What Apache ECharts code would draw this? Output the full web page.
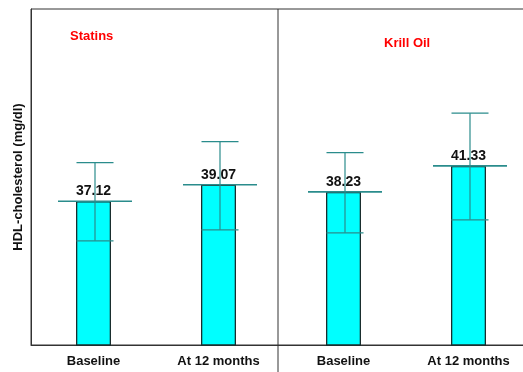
<!DOCTYPE html>
<html>
<head>
<meta charset="utf-8">
<script src="https://cdn.jsdelivr.net/npm/echarts@6/dist/echarts.min.js"></script>
<style>
  html, body { margin: 0; padding: 0; background: #fff; }
  #chart { width: 523px; height: 372px; }
</style>
</head>
<body>
<div id="chart"></div>
<script>
// HDL-cholesterol, mean with error range, per group and time point
const categories = ['Baseline', 'At 12 months', 'Baseline ', 'At 12 months '];
const meanValues = [37.12, 39.07, 38.23, 41.33];
const upperValues = [41.7, 44.2, 42.9, 47.6];
const lowerValues = [32.4, 33.7, 33.35, 34.9];
const groupNames = ['Statins', 'Krill Oil'];

const FONT = '"Liberation Sans", Arial, sans-serif';
const TEAL = '#2a8c8c';

const errorData = categories.map((c, i) => [i, meanValues[i], upperValues[i], lowerValues[i]]);

const chart = echarts.init(document.getElementById('chart'), null, { renderer: 'canvas' });

chart.setOption({
  animation: false,
  backgroundColor: '#fff',
  textStyle: { fontFamily: FONT },
  grid: {
    left: 31, top: 9, bottom: 27, width: 500,
    containLabel: false,
    outerBoundsMode: 'none',
    show: true, borderColor: '#333', borderWidth: 1, backgroundColor: 'transparent'
  },
  title: [
    { text: groupNames[0], left: 65, top: 25,
      textStyle: { color: '#ff0000', fontSize: 13, fontWeight: 'bold', fontFamily: FONT } },
    { text: groupNames[1], left: 379, top: 32,
      textStyle: { color: '#ff0000', fontSize: 13, fontWeight: 'bold', fontFamily: FONT } }
  ],
  xAxis: {
    type: 'category',
    data: categories,
    axisLine: { show: true, lineStyle: { color: '#333', width: 1 } },
    axisTick: { show: false },
    axisLabel: {
      color: '#111', fontSize: 13, fontWeight: 'bold', fontFamily: FONT, margin: 10,
      formatter: v => v.trim()
    },
    splitLine: { show: false }
  },
  yAxis: {
    type: 'value',
    min: 20, max: 60,
    name: 'HDL-cholesterol (mg/dl)',
    nameLocation: 'middle',
    nameGap: 6,
    nameTextStyle: { color: '#111', fontSize: 13, fontWeight: 'bold', fontFamily: FONT },
    axisLine: { show: true, lineStyle: { color: '#333' } },
    axisTick: { show: false },
    axisLabel: { show: false },
    splitLine: { show: false }
  },
  graphic: [
    { type: 'line', shape: { x1: 278, y1: 9, x2: 278, y2: 372 },
      style: { stroke: '#333', lineWidth: 1 }, z: 10 }
  ],
  series: [
    {
      type: 'bar',
      data: meanValues,
      barWidth: 35,
      itemStyle: { color: '#00ffff', borderColor: '#1a2e2e', borderWidth: 1.3 },
      label: {
        show: true, position: 'top', distance: 3,
        color: '#111', fontSize: 14, fontWeight: 'bold', fontFamily: FONT,
        formatter: p => p.value.toFixed(2)
      },
      z: 2
    },
    {
      type: 'custom',
      data: errorData,
      encode: { x: 0, y: [1, 2, 3] },
      z: 5,
      renderItem: (params, api) => {
        const idx = api.value(0);
        const mean = api.coord([idx, api.value(1)]);
        const hi = api.coord([idx, api.value(2)]);
        const lo = api.coord([idx, api.value(3)]);
        const x = mean[0] + 1.5;
        const capHalf = 18.5;
        const meanHalf = 37;
        const style = { stroke: TEAL, lineWidth: 1.2, fill: null };
        return {
          type: 'group',
          children: [
            { type: 'line', shape: { x1: x, y1: hi[1], x2: x, y2: lo[1] }, style },
            { type: 'line', shape: { x1: x - capHalf, y1: hi[1], x2: x + capHalf, y2: hi[1] }, style },
            { type: 'line', shape: { x1: x - capHalf, y1: lo[1], x2: x + capHalf, y2: lo[1] }, style },
            { type: 'line', shape: { x1: x - meanHalf, y1: mean[1], x2: x + meanHalf, y2: mean[1] },
              style: { stroke: TEAL, lineWidth: 1.6 } }
          ]
        };
      }
    }
  ]
});
</script>
</body>
</html>
